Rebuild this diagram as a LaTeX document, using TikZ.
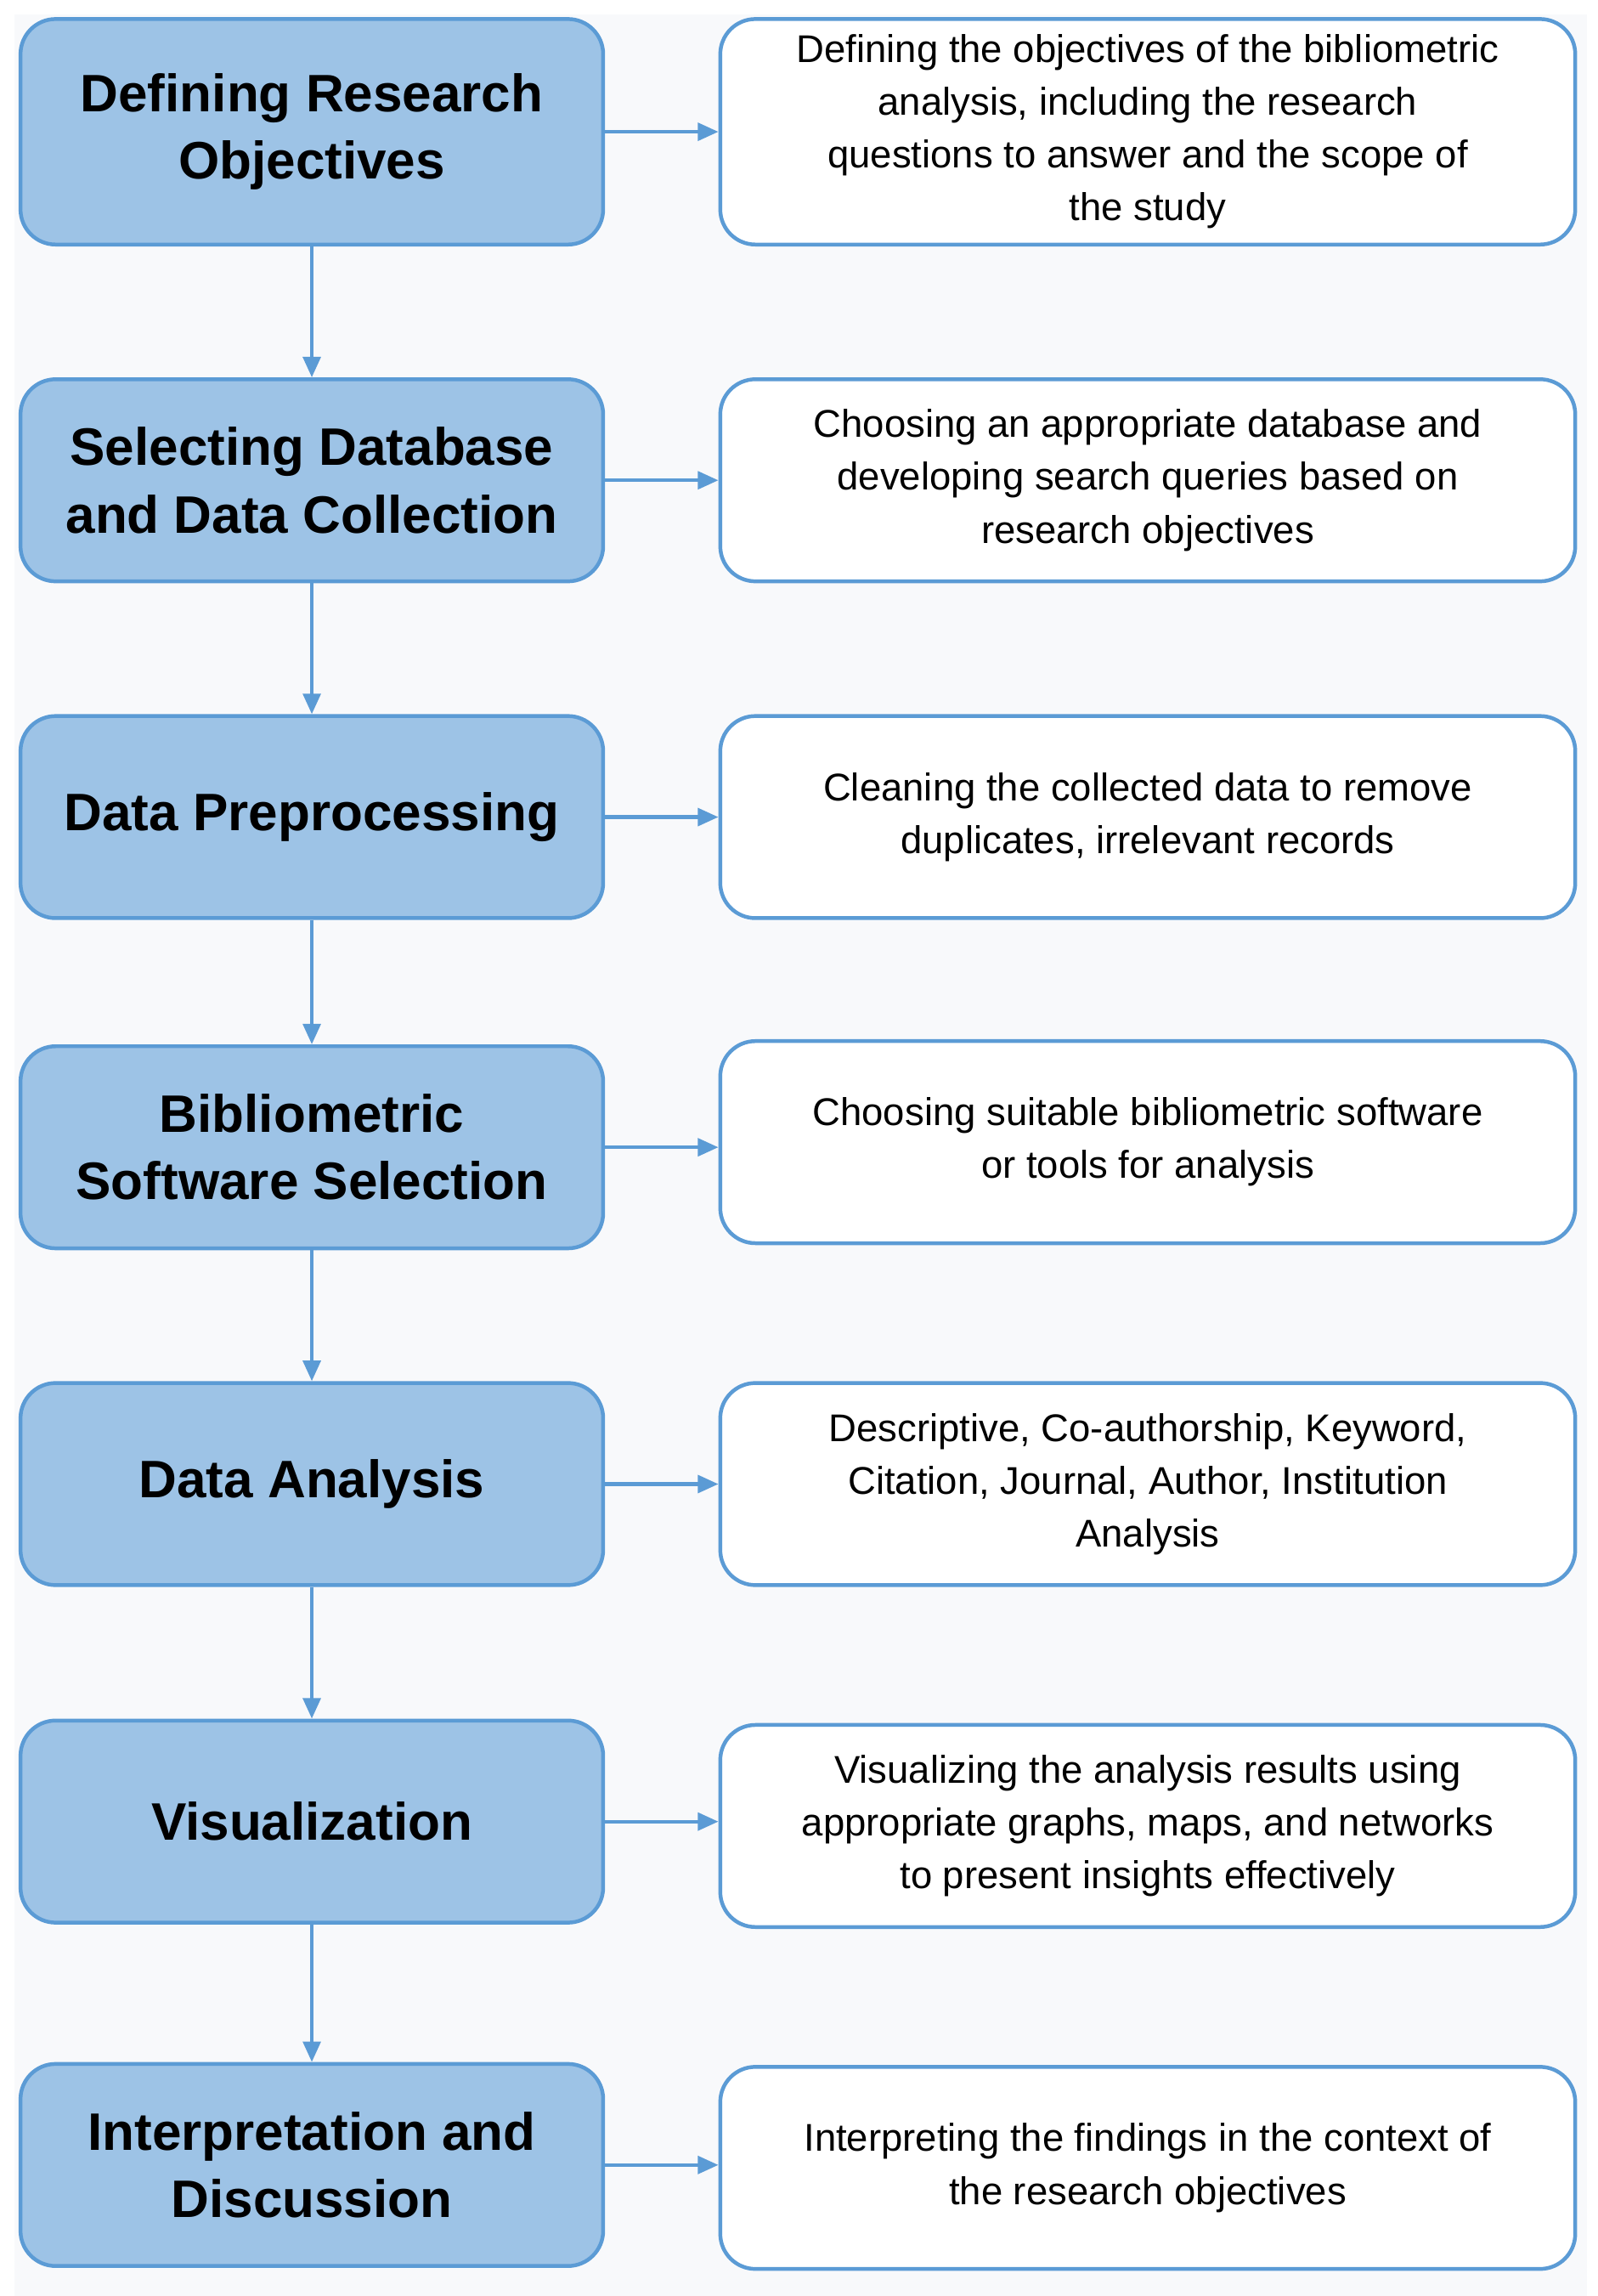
\documentclass[tikz,border=0pt]{standalone}
\usepackage{fontspec}
\setmainfont{Liberation Sans}
\usetikzlibrary{arrows.meta}
\definecolor{bord}{HTML}{5B9BD5}
\definecolor{fillb}{HTML}{9DC3E6}
\definecolor{bg}{HTML}{F8F9FB}
\begin{document}
\begin{tikzpicture}[x=0.5pt,y=-0.5pt,
  L/.style={draw=bord,fill=fillb,line width=1.3pt,rounded corners=12pt,minimum width=199pt,minimum height=#1,align=center,inner sep=0pt,font=\fontsize{18}{23}\selectfont\bfseries},
  R/.style={draw=bord,fill=white,line width=1.3pt,rounded corners=12pt,minimum width=292pt,minimum height=#1,align=center,inner sep=0pt,font=\fontsize{13.2}{18}\selectfont},
  ar/.style={draw=bord,line width=1.2pt,-{Triangle[length=7pt,width=6pt]}}]
\useasboundingbox (0,0) rectangle (1091,1568);
\fill[white] (0,0) rectangle (1091,1568);
\fill[bg] (10,10) rectangle (1084,1568);
\node[L=77pt] (l1) at (213,90) {Defining Research\\Objectives};
\node[L=69pt] (l2) at (213,328) {Selecting Database\\and Data Collection};
\node[L=69pt] (l3) at (213,558) {Data Preprocessing};
\node[L=69pt] (l4) at (213,783.5) {Bibliometric\\Software Selection};
\node[L=69pt] (l5) at (213,1013.5) {Data Analysis};
\node[L=69pt] (l6) at (213,1244) {Visualization};
\node[L=69pt] (l7) at (213,1478.5) {Interpretation and\\Discussion};
\node[R=77pt] (r1) at (784,90) {Defining the objectives of the bibliometric\\analysis, including the research\\questions to answer and the scope of\\the study};
\node[R=69pt] (r2) at (784,328) {Choosing an appropriate database and\\developing search queries based on\\research objectives};
\node[R=69pt] (r3) at (784,558) {Cleaning the collected data to remove\\duplicates, irrelevant records};
\node[R=69pt] (r4) at (784,780) {Choosing suitable bibliometric software\\or tools for analysis};
\node[R=69pt] (r5) at (784,1013.5) {Descriptive, Co-authorship, Keyword,\\Citation, Journal, Author, Institution\\Analysis};
\node[R=69pt] (r6) at (784,1247) {Visualizing the analysis results using\\appropriate graphs, maps, and networks\\to present insights effectively};
\node[R=69pt] (r7) at (784,1480.5) {Interpreting the findings in the context of\\the research objectives};
\foreach \i in {1,...,7}{\draw[ar] (l\i.east) -- (r\i.west |- l\i.east);}
\foreach \i/\j in {1/2,2/3,3/4,4/5,5/6,6/7}{\draw[ar] (l\i.south) -- (l\j.north);}
\end{tikzpicture}
\end{document}
